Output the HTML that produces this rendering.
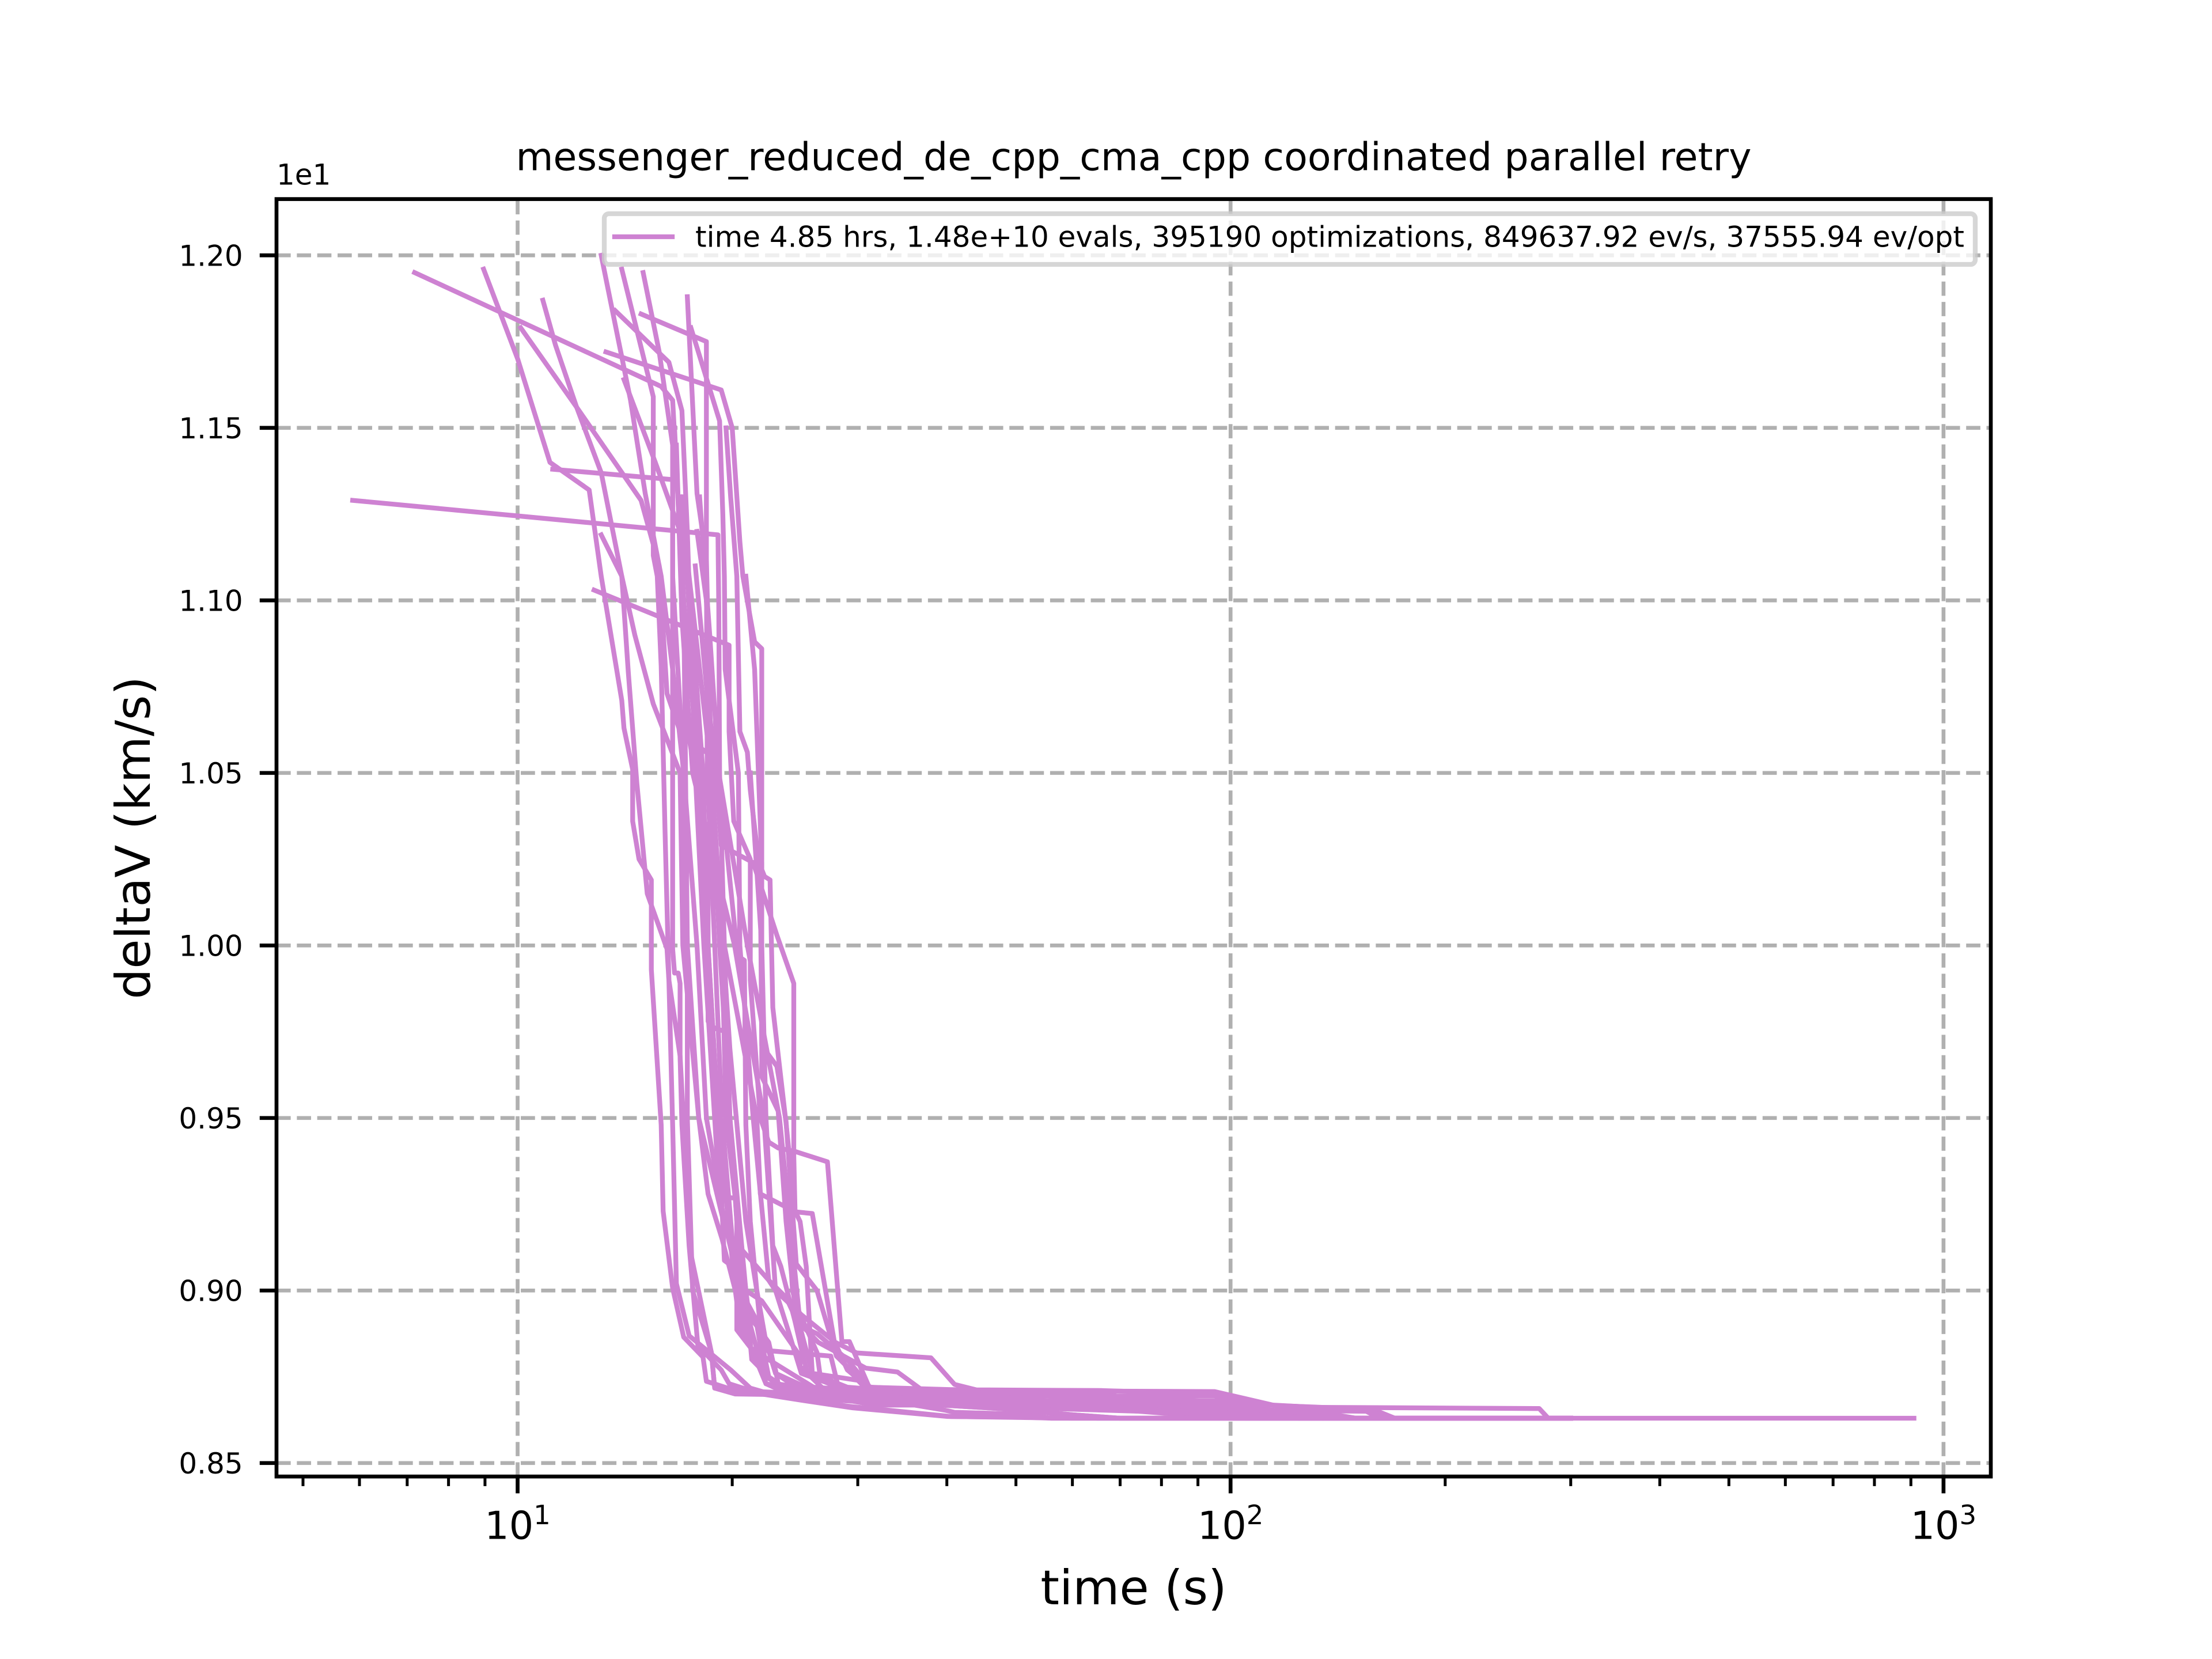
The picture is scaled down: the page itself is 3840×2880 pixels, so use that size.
<!DOCTYPE html>
<html>
<head>
<meta charset="utf-8">
<title>messenger_reduced_de_cpp_cma_cpp coordinated parallel retry</title>
<style>
html,body{margin:0;padding:0;background:#fff;}
svg{display:block;}
text{font-family:"DejaVu Sans","Liberation Sans",sans-serif;fill:#000;}
</style>
</head>
<body>
<svg id="chart" xmlns="http://www.w3.org/2000/svg" width="3840" height="2880" viewBox="0 0 3840 2880">
<rect x="0" y="0" width="3840" height="2880" fill="#fff"/>
<g id="grid"></g>
<g id="lines"></g>
<g id="legend">
<rect x="1049" y="371" width="2380" height="88" rx="8" ry="8" fill="#fff" fill-opacity="0.8" stroke="#ccc" stroke-opacity="0.8" stroke-width="8.33"/>
<line x1="1067" y1="411" x2="1167" y2="411" stroke="#ce82d2" stroke-width="8.33" stroke-linecap="square"/>
<text x="1207" y="428.5" font-size="50">time 4.85 hrs, 1.48e+10 evals, 395190 optimizations, 849637.92 ev/s, 37555.94 ev/opt</text>
</g>
<g id="ticks"></g>
<rect x="480" y="345.6" width="2976" height="2217.6" fill="none" stroke="#000" stroke-width="6.67"/>
<text x="1968" y="295.6" font-size="66.67" text-anchor="middle">messenger_reduced_de_cpp_cma_cpp coordinated parallel retry</text>
<text x="480" y="320.7" font-size="50">1e1</text>
<text x="1968" y="2785" font-size="83.33" text-anchor="middle">time (s)</text>
<text x="0" y="0" font-size="83.33" text-anchor="middle" transform="translate(260 1454.4) rotate(-90)">deltaV (km/s)</text>
</svg>
<script>
const xMajorExponents = [1, 2, 3];
const xMinorTicks = [5, 6, 7, 8, 9, 20, 30, 40, 50, 60, 70, 80, 90, 200, 300, 400, 500, 600, 700, 800, 900];
const yTickValues = [8.5, 9, 9.5, 10, 10.5, 11, 11.5, 12];
const yTickLabels = ['0.85', '0.90', '0.95', '1.00', '1.05', '1.10', '1.15', '1.20'];
const xDomain = [4.59, 1165];
const yDomain = [8.461, 12.163];

const runTimes = [
[5.87,19.1,19.15,19.2,19.5,19.85,20.9,21.3,23,27,44,52,60,68,90,130,300],
[7.17,15.9,16.5,17.1,17.2,17.3,17.3,17.6,18.7,18.9,20.2,26,38,42,70,100,125,300],
[8.96,10,11.1,12.6,13.1,14,14.1,14.5,14.5,14.8,15.4,15.4,15.9,16,16.5,17.1,18.2,18.4,20.2,25,29,41.5,50,65,300],
[10.85,11.3,12.1,13.1,14,14.3,14.7,15.2,16.2,16.3,16.9,17,17.4,17.9,19.3,19.8,22,25.4,29.5,40.1,51,56,300],
[10.1,12.1,14.9,15.8,16.2,16.9,18.9,19.3,21.4,23.1,24.4,24.4,24.5,24.9,25.4,25.9,30,31,35,95,110,160,170,300],
[13.1,14.4,15.1,15.9,16.5,17.1,17.85,18.4,19.5,20.55,21.65,22.3,24,31.8,36,39.8,41,50.6,56,300],
[14,15.5,15.5,15.7,15.9,16.1,16.3,16.5,16.7,17.4,19.9,21.2,23.2,29,40.5,60,300],
[15,15.8,16.5,16.5,16.5,16.6,16.8,16.9,16.9,17.1,17.5,18.7,18.9,20.2,30,50,56,75,85,110,300],
[13.7,16.3,17,17.3,17.75,18.25,18.85,19.2,20.3,20.3,21.3,27.5,28.2,36,66,72,88,100,130,300],
[14.1,15.6,16.9,17.1,17.95,18.5,19.1,19.5,20,20.35,21.1,22.3,26,35,40,50,60,70,300],
[11.2,16.5,16.5,17.1,17.3,17.95,18.5,19.35,20.2,20.6,22.3,24,60,65,85,96,105,130,300],
[12.8,19.8,19.8,20.1,21.2,21.2,21.9,22.5,23.2,24.5,27.2,28.5,29.2,31.1,36,98,104,120,150,300],
[13.3,19.3,20,20.5,20.7,21.5,22,22,22.2,22.6,22.8,23.3,23.8,24.5,25.9,27.8,29,31,45,95,118,271,279,909],
[14.9,18.4,18.4,18.45,18.9,19.35,20,20.55,22.15,23,23.2,26,36,90,130,300],
[17.3,17.85,18.4,18.7,19.35,19.6,20.9,22,24.9,24.9,27,38,60,80,100,125,300],
[17.5,19.2,19.4,19.5,19.55,20.4,20.5,21.4,22.5,23.8,24.8,26.3,29,31.2,34,45,52,62,90,155,162,300],
[13.1,14,14.6,15.5,16.9,17.05,17.95,19.6,22.5,23,24,25,30,35,40,50,60,70,300],
[19.6,19.9,20.3,20.5,21,21.2,21.9,22,23.1,23.8,24.6,26.3,28,31,40,60,70,92,102,135,300],
[20.9,21.5,22,22,23.2,23.8,24.5,25.9,29,38,44,50,70,92,135,300],
[17,17.5,17.95,18.5,18.5,18.9,19.6,19.85,20.3,20.9,21.2,22.3,24,30,50,75,100,300],
[17.75,18.5,19.6,20.35,20.8,20.9,21.2,21.65,22,22.5,24,40,50,60,80,100,300],
[16.6,17.05,17.4,19.5,21.65,21.9,23.9,24.3,25,26.4,30.8,34.1,36.9,60,66,85,100,125,300],
[16.7,17,17.6,20.15,22.15,23,25,27.9,29.9,38,41,44,66,95,105,140,156,165,300],
[18,18.6,19.15,21,23.3,24.8,26.3,26.6,29,60,90,100,140,150,300],
[21.2,22,22.3,22.8,23.4,24.5,25.2,25.5,28,31,44,52,60,85,115,300],
[17.85,18.4,18.7,19.2,19.85,20.7,21,21.6,22.5,23,25,33,45,65,100,125,300],
[17.2,18.2,18.5,19.1,20.2,20.5,21.3,26,36,50,70,105,300],
[16.9,18.7,19.85,20.9,21.65,22.3,23,26,40,60,80,110,300]
];

const runDeltaV = [
[11.29,11.19,10.98,10.5,10,9.5,9,8.8,8.73,8.71,8.7,8.685,8.665,8.66,8.645,8.63,8.63],
[11.95,11.62,11.58,11,10.5,10,9.5,9,8.82,8.717,8.71,8.7,8.7,8.68,8.665,8.64,8.63,8.63],
[11.96,11.7,11.4,11.32,11.07,10.71,10.63,10.51,10.36,10.25,10.19,9.93,9.48,9.23,9.007,8.865,8.807,8.737,8.71,8.69,8.68,8.667,8.655,8.63,8.63],
[11.87,11.74,11.56,11.37,11.07,10.79,10.47,10.15,9.99,9.9,9.68,9.48,9.13,8.84,8.77,8.73,8.7,8.68,8.66,8.635,8.633,8.63,8.63],
[11.79,11.56,11.29,11.1,10.73,10.62,10.54,10.29,10.24,10.03,9.89,9.39,9.23,9.2,9.07,8.76,8.74,8.71,8.694,8.694,8.67,8.652,8.63,8.63],
[12,11.58,11.31,11.07,10.8,10.5,10,9.5,9.2,9,8.9,8.75,8.71,8.668,8.668,8.653,8.647,8.642,8.63,8.63],
[11.96,11.59,11.13,11.07,10.81,10.33,9.9,9.48,9.02,8.869,8.77,8.717,8.694,8.665,8.635,8.63,8.63],
[11.95,11.72,11.45,10.8,9.99,9.92,9.92,9.89,9.68,9.48,9.106,8.82,8.717,8.7,8.695,8.69,8.67,8.66,8.64,8.63,8.63],
[11.84,11.69,11.55,11.2,10.5,10,9.535,9.27,9.268,8.886,8.83,8.81,8.717,8.71,8.71,8.68,8.675,8.655,8.63,8.63],
[11.64,11.4,11.2,11,10.5,10,9.5,9.087,9.07,9.04,8.85,8.73,8.7,8.68,8.667,8.655,8.64,8.63,8.63],
[11.38,11.35,11.07,10.5,10,9.5,9.28,9.15,9,8.902,8.73,8.71,8.71,8.69,8.68,8.675,8.65,8.63,8.63],
[11.03,10.87,10.62,10.36,10.25,9.9,9.5,9.43,9.413,9.403,9.373,8.852,8.852,8.722,8.68,8.68,8.66,8.65,8.63,8.63],
[11.72,11.61,11.5,11.17,11.07,10.88,10.86,10.22,10.2,10.19,9.82,9.65,9.485,9.228,9.223,8.855,8.77,8.72,8.71,8.707,8.662,8.658,8.63,8.63],
[11.83,11.75,11.12,10.5,10,9.5,9.15,9,8.875,8.77,8.73,8.7,8.67,8.645,8.63,8.63],
[11.88,11.31,11.12,10.5,10,9.5,9,8.97,8.81,8.78,8.71,8.7,8.67,8.655,8.64,8.63,8.63],
[11.79,11.52,11.25,11.07,10.8,10.5,10,9.5,9.03,8.98,8.9,8.875,8.8,8.72,8.71,8.7,8.685,8.67,8.655,8.65,8.63,8.63],
[11.19,11.07,10.9,10.7,10.5,10,9.5,9.17,9.03,9,8.88,8.76,8.7,8.68,8.667,8.655,8.64,8.63,8.63],
[11.5,11.3,11.07,10.62,10.56,10.45,10.2,9.71,9.65,9.49,9.077,9,8.81,8.72,8.71,8.69,8.675,8.66,8.64,8.63,8.63],
[11.07,10.8,10.24,9.62,9.52,9.2,8.95,8.76,8.72,8.7,8.7,8.68,8.67,8.645,8.63,8.63],
[11.3,10.9,10.5,10.24,9.78,9.76,9.75,9.5,9.2,9,8.9,8.73,8.7,8.69,8.67,8.66,8.63,8.63],
[11.1,10.7,10.3,9.97,9.957,9.48,9.2,9,8.85,8.75,8.71,8.7,8.69,8.665,8.645,8.63,8.63],
[11.5,11,10.6,10,9.5,9.28,9.24,9,8.9,8.85,8.775,8.764,8.712,8.705,8.69,8.665,8.64,8.63,8.63],
[11.45,10.95,10.5,10,9.5,9,8.93,8.85,8.819,8.805,8.728,8.712,8.71,8.7,8.67,8.66,8.655,8.63,8.63],
[11.3,10.9,10.5,10,9.5,8.94,8.82,8.745,8.71,8.7,8.68,8.66,8.64,8.63,8.63],
[10.5,10,9.5,9.13,9.07,8.91,8.8,8.76,8.72,8.71,8.705,8.68,8.66,8.645,8.63,8.63],
[11.2,11,10.5,10,9.5,8.945,8.93,8.9,8.85,8.76,8.71,8.7,8.68,8.66,8.645,8.63,8.63],
[11.2,10.5,10,9.5,9,8.9,8.83,8.72,8.7,8.68,8.66,8.63,8.63],
[11.3,10.5,9.7,9.2,9,8.85,8.76,8.71,8.7,8.675,8.65,8.63,8.63]
];

const SVG_NS = 'http://www.w3.org/2000/svg';
const plotLeft = 480, plotRight = 3456, plotTop = 345.6, plotBottom = 2563.2;

function xScale(t) {
  const a = Math.log10(xDomain[0]), b = Math.log10(xDomain[1]);
  return plotLeft + (Math.log10(t) - a) / (b - a) * (plotRight - plotLeft);
}
function yScale(v) {
  return plotBottom - (v - yDomain[0]) / (yDomain[1] - yDomain[0]) * (plotBottom - plotTop);
}
function makeLine(parent, x1, y1, x2, y2, color, width, dash) {
  const el = document.createElementNS(SVG_NS, 'line');
  el.setAttribute('x1', x1);
  el.setAttribute('y1', y1);
  el.setAttribute('x2', x2);
  el.setAttribute('y2', y2);
  el.setAttribute('stroke', color);
  el.setAttribute('stroke-width', width);
  if (dash) el.setAttribute('stroke-dasharray', dash);
  parent.appendChild(el);
  return el;
}

const gridGroup = document.getElementById('grid');
const tickGroup = document.getElementById('ticks');
const lineGroup = document.getElementById('lines');

yTickValues.forEach(function (value, i) {
  const y = yScale(value);
  const gridLine = makeLine(gridGroup, plotLeft, y, plotRight, y, '#b0b0b0', 6.67, '24.67 10.67');
  
  
  const tick = makeLine(tickGroup, plotLeft - 29.2, y, plotLeft, y, '#000', 6.67);
  
  
  const label = document.createElementNS(SVG_NS, 'text');
  
  
  label.setAttribute('x', plotLeft - 58.3);
  label.setAttribute('y', y + 18.2);
  label.setAttribute('font-size', '50');
  label.setAttribute('text-anchor', 'end');
  label.textContent = yTickLabels[i];
  tickGroup.appendChild(label);
});

xMajorExponents.forEach(function (exponent) {
  const x = xScale(Math.pow(10, exponent));
  const gridLine = makeLine(gridGroup, x, plotBottom, x, plotTop, '#b0b0b0', 6.67, '24.67 10.67');
  
  
  const tick = makeLine(tickGroup, x, plotBottom, x, plotBottom + 29.2, '#000', 6.67);
  
  
  const label = document.createElementNS(SVG_NS, 'text');
  
  
  label.setAttribute('x', x);
  label.setAttribute('y', 2671.7);
  label.setAttribute('font-size', '66.67');
  label.setAttribute('text-anchor', 'middle');
  const base = document.createElementNS(SVG_NS, 'tspan');
  base.textContent = '10';
  const sup = document.createElementNS(SVG_NS, 'tspan');
  sup.setAttribute('font-size', '46.67');
  sup.setAttribute('dy', '-25.7');
  sup.textContent = String(exponent);
  label.appendChild(base);
  label.appendChild(sup);
  tickGroup.appendChild(label);
});

xMinorTicks.forEach(function (value) {
  const x = xScale(value);
  const tick = makeLine(tickGroup, x, plotBottom, x, plotBottom + 16.67, '#000', 5);
  
  
});

runTimes.forEach(function (times, r) {
  const values = runDeltaV[r];
  const pts = [];
  for (let i = 0; i < times.length && i < values.length; i++) {
    pts.push(xScale(times[i]).toFixed(1) + ',' + yScale(values[i]).toFixed(1));
  }
  const poly = document.createElementNS(SVG_NS, 'polyline');
  
  
  poly.setAttribute('points', pts.join(' '));
  poly.setAttribute('fill', 'none');
  poly.setAttribute('stroke', '#ce82d2');
  poly.setAttribute('stroke-width', '8.33');
  poly.setAttribute('stroke-linecap', 'square');
  poly.setAttribute('stroke-linejoin', 'round');
  lineGroup.appendChild(poly);
});
</script>
</body>
</html>
